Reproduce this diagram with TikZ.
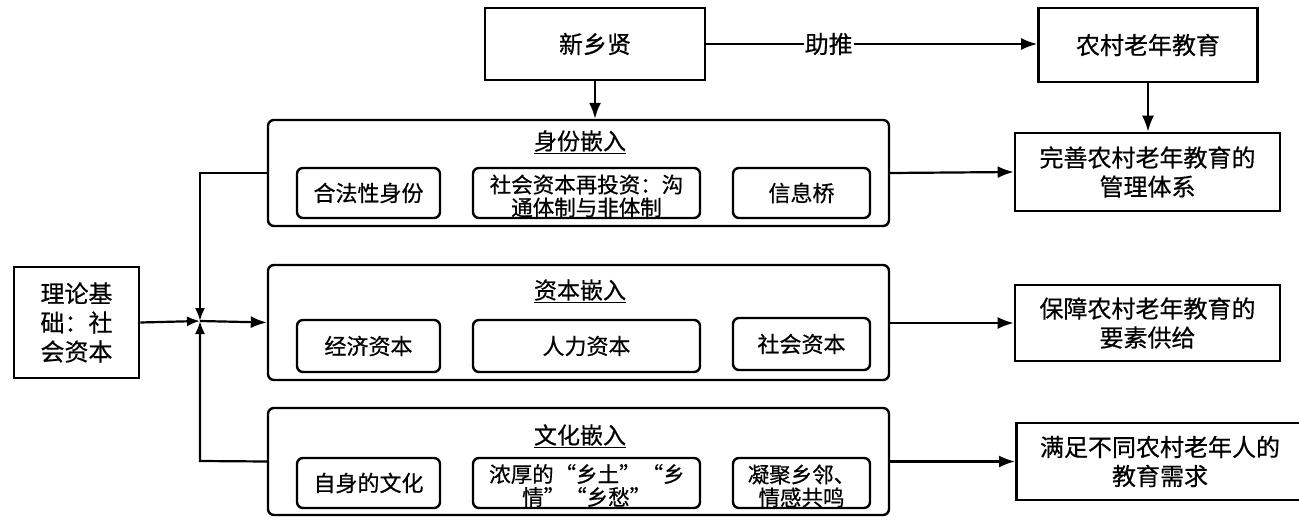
\documentclass[tikz,border=0pt]{standalone}
\usepackage{fontspec}
\setmainfont{Noto Sans CJK SC}[FakeBold=0.6]
\usetikzlibrary{arrows.meta}
\begin{document}
\begin{tikzpicture}[x=1pt,y=-1pt,
  every node/.style={font=\fontsize{24}{29}\selectfont},
  box/.style={draw,line width=2.6pt,inner sep=0pt,align=center},
  bigbox/.style={draw,line width=2.4pt,rounded corners=6pt,inner sep=0pt},
  inbox/.style={draw,line width=2.4pt,rounded corners=6pt,inner sep=0pt,align=center,font=\fontsize{22}{24}\selectfont},
  twol/.style={font=\fontsize{21.5}{23}\selectfont},
  arr/.style={line width=2.2pt,-{Latex[length=16pt,width=12pt]}},
  sarr/.style={line width=2.2pt,-{Latex[length=13pt,width=10pt]}},
  ttl/.style={font=\fontsize{23}{27}\selectfont}]
\useasboundingbox (0,0) rectangle (1299,522);
% top boxes
\node[box,minimum width=220pt,minimum height=72pt] (xxx) at (595,44) {新乡贤};
\node[box,minimum width=219pt,minimum height=74pt] (ncjy) at (1148,45) {农村老年教育};
% left box
\node[box,minimum width=125pt,minimum height=111pt] (lun) at (76.5,322.5) {理论基\\础：社\\会资本};
% big boxes
\node[bigbox,minimum width=621pt,minimum height=106pt] (b1) at (578.5,173) {};
\node[bigbox,minimum width=621pt,minimum height=115pt] (b2) at (578.5,322.5) {};
\node[bigbox,minimum width=621pt,minimum height=107pt] (b3) at (578.5,461.5) {};
\node[ttl] (t1) at (580,142) {\underline{身份嵌入}};
\node[ttl] (t2) at (580,291) {\underline{资本嵌入}};
\node[ttl] (t3) at (580,436) {\underline{文化嵌入}};
% inner boxes row 1
\node[inbox,minimum width=143pt,minimum height=50pt] (a1) at (368.5,193) {合法性身份};
\node[inbox,minimum width=227pt,minimum height=50pt] (a2) at (586.5,193) {};
\node[twol,align=center] (a2t) at (586.5,196) {社会资本再投资：沟\\通体制与非体制};
\node[inbox,minimum width=137pt,minimum height=50pt] (a3) at (801.5,193) {信息桥};
% row 2
\node[inbox,minimum width=143pt,minimum height=52pt] (c1) at (368.5,346) {经济资本};
\node[inbox,minimum width=227pt,minimum height=52pt] (c2) at (586.5,346) {人力资本};
\node[inbox,minimum width=137pt,minimum height=52pt] (c3) at (801.5,344) {社会资本};
% row 3
\node[inbox,minimum width=143pt,minimum height=50pt] (d1) at (368.5,483) {自身的文化};
\node[inbox,minimum width=227pt,minimum height=50pt] (d2) at (586.5,483) {};
\node[twol,anchor=west,inner sep=0pt] (d2a) at (489,474) {浓厚的\hspace{1pt}“乡土”\hspace{1pt}“乡};
\node[twol,anchor=west,inner sep=0pt] (d2b) at (522,497) {情”“乡愁”};
\node[inbox,minimum width=137pt,minimum height=50pt] (d3) at (801.5,483) {};
\node[twol,align=center] (d3t) at (801.5,486) {凝聚乡邻、\\情感共鸣};
% right boxes
\node[box,minimum width=265pt,minimum height=78pt] (r1) at (1147.5,172) {完善农村老年教育的\\管理体系};
\node[box,minimum width=265pt,minimum height=76pt] (r2) at (1147.5,323) {保障农村老年教育的\\要素供给};
\node[box,minimum width=300pt,minimum height=77pt,anchor=west] (r3) at (1015,461.5) {};
\node[align=center] (r3t) at (1160,461.5) {满足不同农村老年人的\\教育需求};
% junction
\coordinate (J) at (200,321);
\coordinate (J1) at (200,173);
\coordinate (J3) at (200,461);
% connectors
\draw[arr] (xxx.east) -- node[fill=white,inner sep=1pt,pos=0.37] (zt) {助推} (ncjy.west |- xxx.east);
\draw[arr] (xxx.south) -- (xxx.south |- b1.north);
\draw[arr] (ncjy.south) -- (r1.north -| ncjy.south);
\draw[arr] (b1.east) -- (r1.west);
\draw[arr] (b2.east |- r2.west) -- (r2.west);
\draw[arr] (b3.east) -- (r3.west |- b3.east);
\draw[sarr] (lun.east) -- (J);
\draw[sarr] (b1.west) -- (J1) -- (J);
\draw[sarr] (b3.west) -- (J3) -- (J);
\draw[arr] (J) -- (b2.west);
\end{tikzpicture}
\end{document}
